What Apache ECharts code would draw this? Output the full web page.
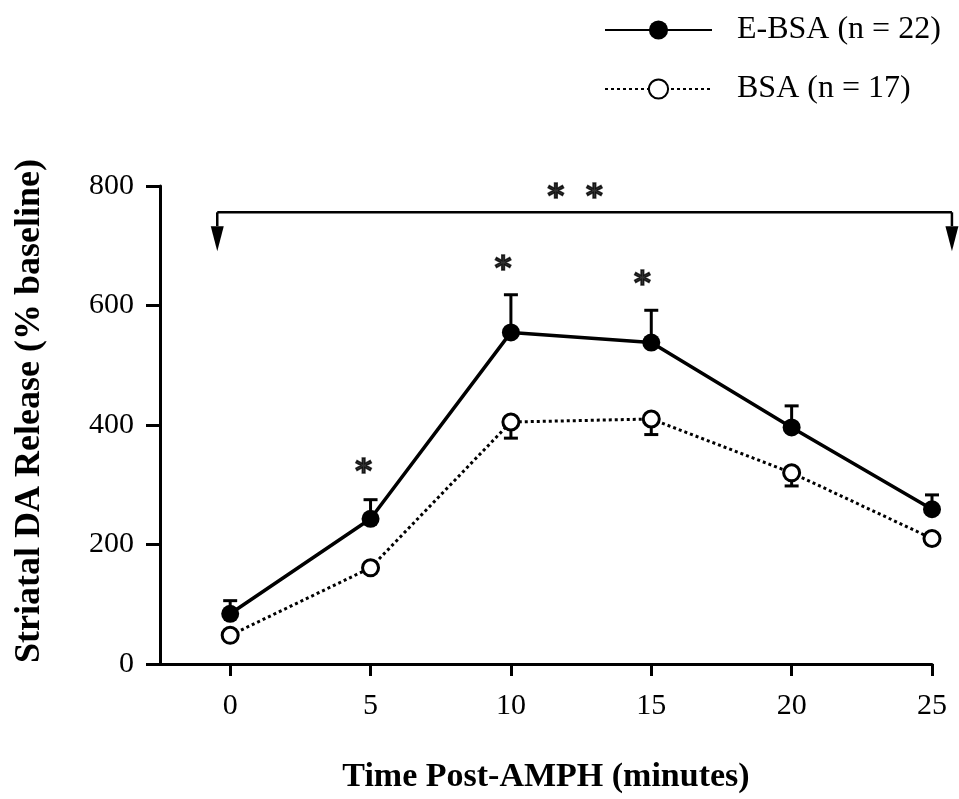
<!DOCTYPE html>
<html>
<head>
<meta charset="utf-8">
<script src="https://cdn.jsdelivr.net/npm/echarts@6/dist/echarts.min.js"></script>
<style>
  html, body { margin: 0; padding: 0; background: #fff; }
  #main { width: 959px; height: 799px; }
</style>
</head>
<body>
<div id="main"></div>
<script>
// time points (minutes)
var minutes = [0, 5, 10, 15, 20, 25];
// E-BSA mean and top of SEM bar
var eBsa = [84, 243, 555, 538, 396, 259];
var eBsaErr = [106, 275, 618, 592, 432, 283];
// BSA mean and bottom of SEM bar
var bsa = [48, 161, 405, 410, 320, 210];
var bsaErr = [48, 161, 378, 384, 298, 210];

var yTicks = [0, 200, 400, 600, 800];
var xTicks = [0, 5, 10, 15, 20, 25];

// significance marks
var starX = [4.75, 9.72, 14.68, 11.6, 12.97];
var starY = [334, 674, 648, 793, 793];
// overall bracket: left x, right x, bar level, arrow tip level
var bracket = [-0.46, 25.71, 756, 691];

var serif = '"Liberation Serif", "Times New Roman", serif';

function pairs(xs, ys) {
  return xs.map(function (x, i) { return [x, ys[i]]; });
}

function errRender(params, api) {
  var x = api.value(0);
  var p0 = api.coord([x, api.value(1)]);
  var p1 = api.coord([x, api.value(2)]);
  if (Math.abs(p0[1] - p1[1]) < 1) return;
  var w = 7;
  return {
    type: 'group',
    children: [
      { type: 'line', shape: { x1: p0[0], y1: p0[1], x2: p1[0], y2: p1[1] }, style: { stroke: '#000', lineWidth: 3 } },
      { type: 'line', shape: { x1: p1[0] - w, y1: p1[1], x2: p1[0] + w, y2: p1[1] }, style: { stroke: '#000', lineWidth: 3 } }
    ]
  };
}

function bracketRender(params, api) {
  var l = api.coord([api.value(0), api.value(2)]);
  var r = api.coord([api.value(1), api.value(2)]);
  var tipY = api.coord([0, api.value(3)])[1];
  var hw = 6.5, ah = 25;
  function arrow(x) {
    return [
      { type: 'line', shape: { x1: x, y1: l[1], x2: x, y2: tipY - ah }, style: { stroke: '#000', lineWidth: 2.5 } },
      { type: 'polygon', shape: { points: [[x - hw, tipY - ah], [x + hw, tipY - ah], [x, tipY]] }, style: { fill: '#000' } }
    ];
  }
  return {
    type: 'group',
    children: [
      { type: 'line', shape: { x1: l[0], y1: l[1], x2: r[0], y2: r[1] }, style: { stroke: '#000', lineWidth: 2.5 } }
    ].concat(arrow(l[0])).concat(arrow(r[0]))
  };
}

var myChart = echarts.init(document.getElementById('main'));
myChart.setOption({
  backgroundColor: '#fff',
  animation: false,
  legend: {
    orient: 'vertical',
    left: 599,
    top: 9,
    itemWidth: 107,
    itemHeight: 24,
    itemGap: 27,
    textStyle: { fontFamily: serif, fontSize: 32, color: '#000', padding: [0, 0, 0, 20] },
    data: ['E-BSA (n = 22)', 'BSA (n = 17)']
  },
  grid: { left: 160, right: 27, top: 186, bottom: 131 },
  xAxis: {
    type: 'value',
    min: -2.5,
    max: 25,
    name: 'Time Post-AMPH (minutes)',
    nameLocation: 'middle',
    nameGap: 96,
    nameTextStyle: { fontFamily: serif, fontSize: 34, fontWeight: 'bold', color: '#000' },
    axisLine: { onZero: false, lineStyle: { color: '#000', width: 3 } },
    axisTick: { show: true, length: 12, customValues: xTicks, lineStyle: { color: '#000', width: 3 } },
    axisLabel: { customValues: xTicks, margin: 27, fontFamily: serif, fontSize: 30, color: '#000' },
    splitLine: { show: false }
  },
  yAxis: {
    type: 'value',
    min: 0,
    max: 800,
    interval: 200,
    name: 'Striatal DA Release (% baseline)',
    nameLocation: 'middle',
    nameGap: 112,
    nameTextStyle: { fontFamily: serif, fontSize: 36, fontWeight: 'bold', color: '#000', padding: [0, 0, 0, 28] },
    axisLine: { show: true, onZero: false, lineStyle: { color: '#000', width: 3 } },
    axisTick: { show: true, length: 14, customValues: yTicks, lineStyle: { color: '#000', width: 3 } },
    axisLabel: { margin: 26, fontFamily: serif, fontSize: 30, color: '#000' },
    splitLine: { show: false }
  },
  series: [
    {
      type: 'custom',
      name: 'bracket',
      clip: false,
      silent: true,
      renderItem: bracketRender,
      data: [bracket]
    },
    {
      type: 'custom',
      name: 'eErr',
      silent: true,
      renderItem: errRender,
      data: minutes.map(function (m, i) { return [m, eBsa[i], eBsaErr[i]]; }),
      z: 1
    },
    {
      type: 'custom',
      name: 'bErr',
      silent: true,
      renderItem: errRender,
      data: minutes.map(function (m, i) { return [m, bsa[i], bsaErr[i]]; }),
      z: 1
    },
    {
      name: 'BSA (n = 17)',
      type: 'line',
      data: pairs(minutes, bsa),
      symbol: 'circle',
      symbolSize: 16,
      lineStyle: { color: '#000', width: 3, type: [3, 3] },
      itemStyle: { color: '#fff', borderColor: '#000', borderWidth: 3 },
      z: 3
    },
    {
      name: 'E-BSA (n = 22)',
      type: 'line',
      data: pairs(minutes, eBsa),
      symbol: 'circle',
      symbolSize: 18,
      lineStyle: { color: '#000', width: 3.5 },
      itemStyle: { color: '#000' },
      z: 4
    },
    {
      type: 'scatter',
      name: 'stars',
      silent: true,
      symbolSize: 0,
      data: pairs(starX, starY),
      label: {
        show: true,
        formatter: '*',
        position: 'inside',
        fontFamily: '"DejaVu Sans", sans-serif',
        fontWeight: 'bold',
        fontSize: 32,
        color: '#000',
        textBorderColor: '#000',
        textBorderWidth: 1.5,
        offset: [0, 8]
      }
    }
  ]
});
</script>
</body>
</html>
